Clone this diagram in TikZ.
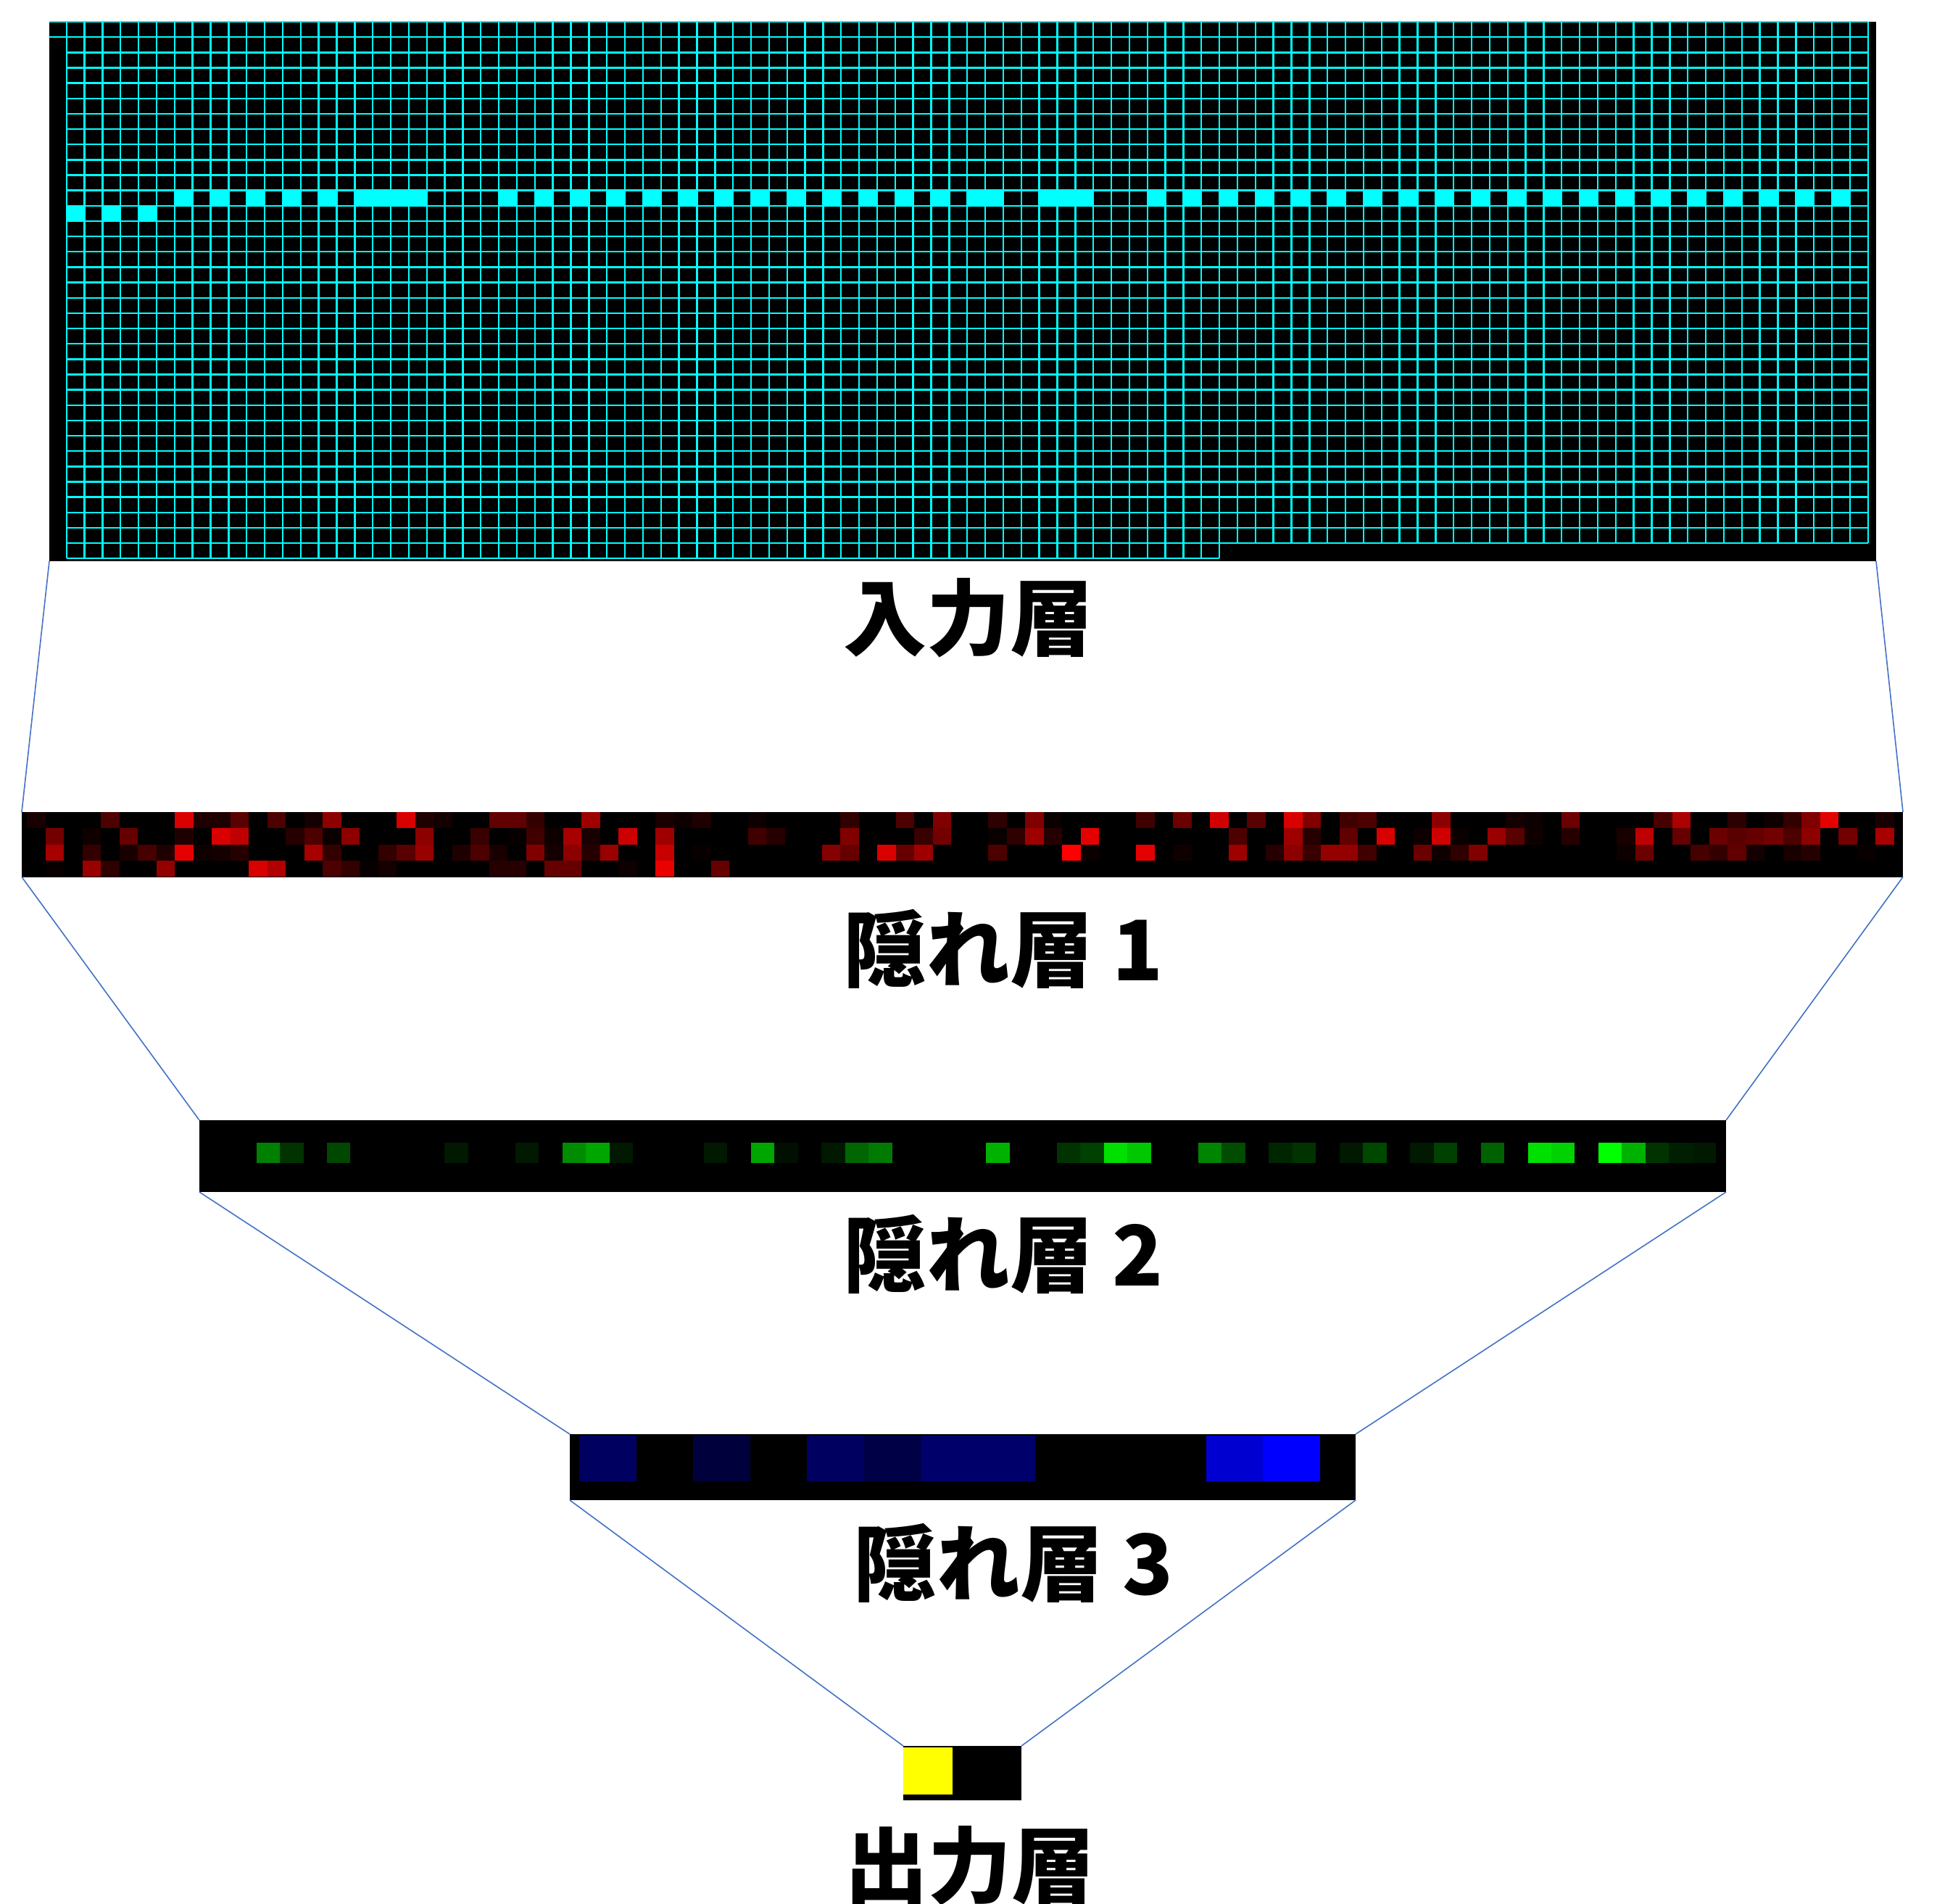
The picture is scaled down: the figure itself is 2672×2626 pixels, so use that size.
\documentclass[tikz,border=0pt]{standalone}
\usepackage{fontspec}
\newfontfamily\jp{Noto Sans CJK JP}
\definecolor{conn}{HTML}{4472C4}
\definecolor{aqua}{RGB}{0,255,255}
\definecolor{yel}{RGB}{255,255,0}
\definecolor{rr}{RGB}{255,0,0}
\definecolor{gg}{RGB}{0,255,0}
\definecolor{bb}{RGB}{0,0,255}
\begin{document}
\begin{tikzpicture}[x=1pt,y=-1pt,
  conline/.style={conn, line width=1.6},
  gridline/.style={aqua, line width=2.4},
  lbl/.style={font=\jp\bfseries\fontsize{115}{130}\selectfont, inner sep=0pt}]
\fill[white] (0,0) rectangle (2672,2626);
\useasboundingbox (0,0) rectangle (2672,2626);

% ---------------- input layer ----------------
\fill[black] (68,30) rectangle (2588,774);
\foreach \c in {6,8,10,12,14,16,17,18,19,24,26,28,30,32,34,36,38,40,42,44,46,48,50,51,54,55,56,60,62,64,66,68,70,72,74,76,78,80,82,84,86,88,90,92,94,96,98}
  \fill[aqua] ({91.7+24.85*\c},{30+21.15*11}) rectangle ++(24.85,21.15);
\foreach \c in {0,2,4}
  \fill[aqua] ({91.7+24.85*\c},{30+21.15*12}) rectangle ++(24.85,21.15);
\begin{scope}[gridline]
  \foreach \r in {0,1} \draw (68,{30+21.15*\r}) -- (2576.7,{30+21.15*\r});
  \foreach \r in {2,...,34} \draw (91.7,{30+21.15*\r}) -- (2576.7,{30+21.15*\r});
  \draw (91.7,770.25) -- (1682.1,770.25);
  \foreach \c in {0,...,64} \draw ({91.7+24.85*\c},30) -- ({91.7+24.85*\c},770.25);
  \foreach \c in {65,...,100} \draw ({91.7+24.85*\c},30) -- ({91.7+24.85*\c},749.1);
\end{scope}
\coordinate (in-bl) at (68,774);
\coordinate (in-br) at (2588,774);

% ---------------- hidden layer 1 ----------------
\fill[black] (30,1120) rectangle (2625,1209.5);
\foreach \c/\v in {0/10,4/30,8/85,9/12,10/12,11/35,13/30,15/8,16/55,20/85,21/12,22/8,25/38,26/38,27/20,30/62,
  34/10,35/6,36/12,39/5,44/18,47/30,49/50,52/18,54/50,55/4,60/25,62/42,64/82,66/35,
  68/85,69/50,71/25,72/30,76/55,80/8,81/5,83/42,88/28,89/68,92/17,94/6,95/20,96/50,97/90,100/10}
  \fill[rr!\v!black] ({37.2+25.5*\c},1120) rectangle ++(25.5,22.35);
\foreach \c/\v in {1/45,3/6,5/40,8/12,10/85,11/75,14/15,15/30,16/4,17/55,21/55,24/22,26/3,27/25,28/6,29/65,30/10,32/80,
  34/62,39/25,40/15,44/50,48/22,49/45,52/4,53/18,54/62,55/15,57/90,65/30,
  68/62,69/15,71/38,73/85,75/5,76/82,77/4,79/60,80/35,81/6,83/15,86/10,87/75,89/40,91/42,92/35,93/40,94/45,95/30,96/55,98/45,100/65}
  \fill[rr!\v!black] ({37.2+25.5*\c},1142.35) rectangle ++(25.5,22.35);
\foreach \c/\v in {1/65,3/20,5/10,6/28,7/12,8/90,9/6,10/8,11/15,15/65,16/20,19/20,20/35,21/60,23/12,24/30,25/10,27/50,28/8,29/55,30/15,31/60,
  34/78,36/3,43/52,44/40,46/85,47/40,48/62,52/30,56/100,57/4,60/90,62/6,65/62,67/15,
  68/55,69/22,70/58,71/58,72/25,75/42,76/6,77/18,78/50,86/5,87/42,90/28,91/20,92/38,93/8,95/10,96/15,99/3}
  \fill[rr!\v!black] ({37.2+25.5*\c},1164.7) rectangle ++(25.5,22.35);
\foreach \c/\v in {1/3,3/60,4/18,7/58,12/85,13/70,16/30,17/20,18/3,19/8,25/15,26/15,28/40,29/40,32/5,34/92,37/40}
  \fill[rr!\v!black] ({37.2+25.5*\c},1187.05) rectangle ++(25.5,22.35);
\coordinate (h1-tl) at (30,1120);
\coordinate (h1-tr) at (2625,1120);
\coordinate (h1-bl) at (30,1209.5);
\coordinate (h1-br) at (2625,1209.5);

% ---------------- hidden layer 2 ----------------
\fill[black] (275,1545) rectangle (2381,1644);
\foreach \c/\v in {2/50,3/20,5/28,10/10,13/10,15/55,16/65,17/10,21/10,23/65,24/6,26/10,27/40,28/48,33/70,36/20,37/25,38/88,39/78,
  42/52,43/30,45/15,46/20,48/10,49/28,51/10,52/25,54/38,56/88,57/82,59/100,60/70,61/20,62/12,63/10}
  \fill[gg!\v!black] ({288.6+32.48*\c},1575.7) rectangle ++(32.48,28.3);
\coordinate (h2-tl) at (275,1545);
\coordinate (h2-tr) at (2381,1545);
\coordinate (h2-bl) at (275,1644);
\coordinate (h2-br) at (2381,1644);

% ---------------- hidden layer 3 ----------------
\fill[black] (786,1978) rectangle (1870,2069);
\foreach \c/\v in {0/38,2/24,4/38,5/28,6/42,7/42,11/82,12/100}
  \fill[bb!\v!black] ({799+78.6*\c},1980) rectangle ++(78.6,63);
\coordinate (h3-tl) at (786,1978);
\coordinate (h3-tr) at (1870,1978);
\coordinate (h3-bl) at (786,2069);
\coordinate (h3-br) at (1870,2069);

% ---------------- output layer ----------------
\fill[black] (1246,2408) rectangle (1409,2483);
\fill[yel] (1246,2410) rectangle (1314,2475);
\coordinate (out-tl) at (1246,2408);
\coordinate (out-tr) at (1409,2408);

% ---------------- connectors ----------------
\draw[conline] (in-bl) -- (h1-tl);
\draw[conline] (in-br) -- (h1-tr);
\draw[conline] (h1-bl) -- (h2-tl);
\draw[conline] (h1-br) -- (h2-tr);
\draw[conline] (h2-bl) -- (h3-tl);
\draw[conline] (h2-br) -- (h3-tr);
\draw[conline] (h3-bl) -- (out-tl);
\draw[conline] (h3-br) -- (out-tr);

% ---------------- labels ----------------
\node[lbl] (t-in) at (1336,852) {入力層};
\node[lbl] (t-h1) at (1384,1309) {隠れ層 1};
\node[lbl] (t-h2) at (1384,1730) {隠れ層 2};
\node[lbl] (t-h3) at (1398,2156) {隠れ層 3};
\node[lbl] (t-out) at (1338,2573) {出力層};
\end{tikzpicture}
\end{document}
